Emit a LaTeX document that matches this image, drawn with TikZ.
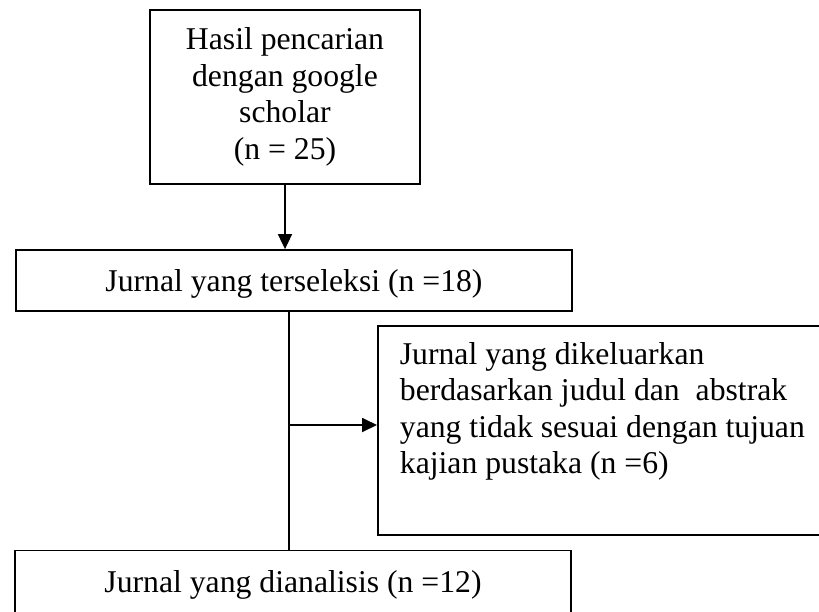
\documentclass[tikz,border=0pt]{standalone}
\usepackage{fontspec}
\setmainfont{Liberation Serif}
\usetikzlibrary{arrows.meta}

\begin{document}
\begin{tikzpicture}[x=1pt,y=-1pt,
	kotak/.style={draw, line width=1.8pt, inner sep=0pt, font=\fontsize{31.7}{36.5}\selectfont},
	panah/.style={line width=1.8pt, -{Triangle[length=15pt,width=14pt]}}]
\useasboundingbox (0,0) rectangle (819,611);
\clip (0,0) rectangle (819,611);

\node[kotak, minimum width=270pt, minimum height=174pt, text width=250pt, align=flush center] (cari) at (285,97) {Hasil pencarian\\dengan google\\scholar\\(n = 25)};
\node[kotak, minimum width=556pt, minimum height=61pt, text depth=0pt] (seleksi) at (294,280.5) {Jurnal yang terseleksi (n =18)};
\node[kotak, anchor=north west, minimum width=445pt, minimum height=209pt, text width=420pt, inner xsep=22pt, align=flush left] (keluar) at (377,325) {Jurnal yang dikeluarkan\\berdasarkan judul dan \ abstrak\\yang tidak sesuai dengan tujuan\\kajian pustaka (n =6)\\[8pt]\mbox{}};
\node[kotak, minimum width=556pt, minimum height=66pt, text depth=5pt] (analisis) at (293,583.5) {Jurnal yang dianalisis (n =12)};

\coordinate (cabang) at (289,425);

\draw[panah] (cari.south) -- (cari.south |- seleksi.north);
\draw[line width=1.8pt] (seleksi.south -| cabang) -- (analisis.north -| cabang);
\draw[panah] (cabang) -- (cabang -| keluar.west);

\end{tikzpicture}
\end{document}
